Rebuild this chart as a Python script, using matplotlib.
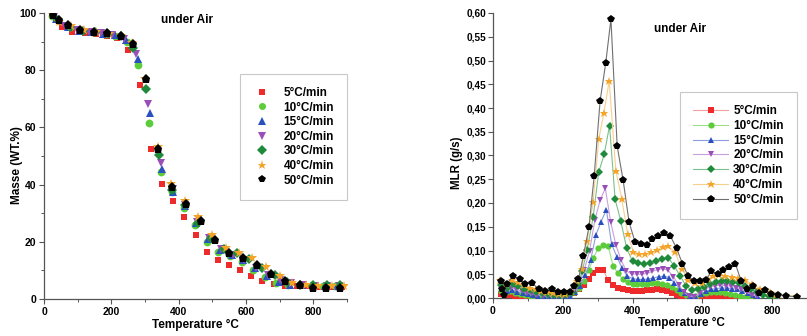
import matplotlib
matplotlib.use("Agg")
import matplotlib.pyplot as plt
from matplotlib.ticker import MultipleLocator, FuncFormatter

plt.rcParams['font.family'] = ['Liberation Sans', 'DejaVu Sans']
plt.rcParams['font.weight'] = 'bold'

labels = ["5°C/min", "10°C/min", "15°C/min", "20°C/min", "30°C/min", "40°C/min", "50°C/min"]
colors = ["#ee2a2a", "#5ccc3a", "#2a50c0", "#9a4fb8", "#1e8a3a", "#f5a42a", "#000000"]
line_colors = ["#f4a0a0", "#9ee08a", "#8c9ee0", "#c9a0dc", "#7cc08e", "#f8cf8f", "#707070"]
markers = ["s", "o", "^", "v", "D", "*", "p"]

# ---------------- TGA (left) ----------------
tga_T_5 = [30, 52, 84, 121, 155, 188, 218, 250, 285, 317, 350, 383, 417, 450, 483, 516, 550, 582, 615, 649, 682, 716, 750, 785, 820, 855, 885]
tga_m_5 = [98.8, 95.1, 93.5, 93.1, 92.6, 92.1, 91.3, 87.2, 74.9, 52.3, 40.3, 34.4, 28.6, 22.3, 16.4, 13.5, 11.9, 10.1, 8.0, 6.2, 5.2, 4.7, 4.5, 4.4, 4.3, 4.3, 4.3]
tga_T_10 = [25, 42, 76, 110, 144, 178, 212, 246, 280, 313, 347, 381, 416, 449, 483, 518, 552, 588, 622, 656, 690, 725, 760, 795, 830, 865]
tga_m_10 = [99.0, 97.5, 95.0, 94.0, 93.3, 92.8, 92.0, 90.0, 81.7, 61.5, 44.4, 37.5, 31.8, 25.8, 20.0, 16.5, 15.0, 12.8, 10.2, 7.8, 5.6, 4.9, 4.8, 4.8, 4.7, 4.7]
tga_T_15 = [35, 70, 105, 140, 175, 210, 245, 278, 314, 350, 383, 418, 452, 488, 522, 558, 592, 627, 662, 697, 732, 767, 800, 835, 870]
tga_m_15 = [97.8, 95.0, 93.8, 93.3, 92.8, 92.2, 90.5, 83.9, 65.0, 45.5, 37.5, 32.5, 26.5, 21.0, 17.0, 15.3, 13.5, 10.8, 8.0, 6.0, 5.0, 5.0, 4.8, 4.7, 4.7]
tga_T_20 = [30, 63, 98, 133, 168, 203, 238, 273, 309, 348, 383, 418, 455, 490, 525, 560, 595, 630, 665, 700, 735, 770, 805, 840, 875]
tga_m_20 = [98.5, 95.6, 94.0, 93.4, 92.9, 92.3, 91.0, 85.7, 68.1, 47.6, 38.5, 33.0, 27.0, 21.5, 17.5, 15.5, 13.5, 11.0, 8.5, 6.5, 5.5, 5.0, 4.6, 4.5, 4.5]
tga_T_30 = [42, 78, 115, 152, 190, 228, 265, 302, 341, 380, 420, 458, 496, 535, 572, 610, 648, 685, 722, 760, 800, 840, 878]
tga_m_30 = [97.5, 95.0, 93.8, 93.3, 92.8, 91.8, 87.7, 73.3, 50.4, 38.0, 32.8, 26.5, 21.5, 17.5, 16.0, 14.0, 11.0, 8.5, 5.8, 5.0, 5.0, 4.8, 4.8]
tga_T_40 = [25, 45, 80, 118, 155, 192, 228, 262, 300, 338, 378, 420, 458, 500, 540, 578, 618, 660, 700, 738, 778, 815, 855, 890]
tga_m_40 = [99.5, 97.0, 95.3, 94.2, 93.5, 92.8, 92.0, 89.5, 77.0, 53.0, 40.2, 34.3, 28.6, 22.3, 17.8, 16.2, 14.5, 11.3, 8.0, 5.5, 4.8, 4.5, 4.4, 4.4]
tga_T_50 = [27, 44, 71, 108, 149, 188, 228, 263, 302, 340, 381, 422, 465, 508, 550, 591, 633, 675, 716, 759, 799, 839, 880]
tga_m_50 = [99.4, 97.7, 95.7, 94.2, 93.4, 92.9, 92.0, 89.2, 77.0, 52.4, 39.0, 33.3, 27.2, 20.7, 16.1, 14.3, 12.0, 8.9, 6.2, 4.8, 3.8, 3.7, 3.7]

tga_T = [tga_T_5, tga_T_10, tga_T_15, tga_T_20, tga_T_30, tga_T_40, tga_T_50]
tga_m = [tga_m_5, tga_m_10, tga_m_15, tga_m_20, tga_m_30, tga_m_40, tga_m_50]

# ---------------- MLR (right) ----------------
mlr_T_5 = [22, 36, 50, 64, 78, 92, 106, 120, 134, 148, 162, 176, 190, 204, 218, 232, 246, 260, 274, 288, 302, 316, 330, 344, 358, 372, 386, 400, 414, 428, 442, 456, 470, 484, 498, 512, 526, 540, 554, 568, 582, 596, 610, 624, 638, 652, 666, 680, 694, 708, 722, 736]
mlr_v_5 = [0.008, 0.006, 0.007, 0.005, 0.004, 0.003, 0.002, 0.002, 0.001, 0.001, 0.001, 0.001, 0.001, 0.002, 0.005, 0.010, 0.018, 0.027, 0.040, 0.053, 0.059, 0.059, 0.038, 0.027, 0.021, 0.018, 0.016, 0.015, 0.015, 0.015, 0.016, 0.017, 0.018, 0.016, 0.014, 0.011, 0.007, 0.004, 0.002, 0.001, 0.002, 0.004, 0.005, 0.005, 0.005, 0.004, 0.003, 0.002, 0.001, 0.001, 0.001, 0.000]
mlr_T_10 = [22, 36, 50, 64, 78, 92, 106, 120, 134, 148, 162, 176, 190, 204, 218, 232, 246, 260, 274, 288, 302, 316, 330, 344, 358, 372, 386, 400, 414, 428, 442, 456, 470, 484, 498, 512, 526, 540, 554, 568, 582, 596, 610, 624, 638, 652, 666, 680, 694, 708, 722, 736]
mlr_v_10 = [0.015, 0.012, 0.014, 0.011, 0.009, 0.007, 0.005, 0.004, 0.003, 0.002, 0.002, 0.002, 0.002, 0.003, 0.006, 0.013, 0.022, 0.036, 0.058, 0.085, 0.105, 0.112, 0.110, 0.068, 0.052, 0.040, 0.033, 0.030, 0.029, 0.029, 0.030, 0.031, 0.031, 0.030, 0.027, 0.023, 0.017, 0.011, 0.007, 0.004, 0.005, 0.008, 0.011, 0.012, 0.012, 0.012, 0.011, 0.009, 0.007, 0.005, 0.003, 0.002]
mlr_T_15 = [25, 40, 55, 70, 85, 100, 115, 130, 145, 160, 175, 190, 205, 220, 235, 250, 265, 280, 295, 310, 325, 340, 355, 370, 385, 400, 415, 430, 445, 460, 475, 490, 505, 520, 535, 550, 565, 580, 595, 610, 625, 640, 655, 670, 685, 700, 715, 730, 745, 760]
mlr_v_15 = [0.018, 0.014, 0.017, 0.013, 0.011, 0.009, 0.007, 0.005, 0.004, 0.003, 0.003, 0.003, 0.003, 0.005, 0.012, 0.025, 0.048, 0.080, 0.133, 0.161, 0.186, 0.113, 0.087, 0.063, 0.046, 0.041, 0.039, 0.039, 0.040, 0.042, 0.045, 0.046, 0.043, 0.032, 0.020, 0.010, 0.005, 0.004, 0.008, 0.014, 0.018, 0.020, 0.021, 0.021, 0.020, 0.018, 0.014, 0.010, 0.006, 0.003]
mlr_T_20 = [22, 37, 52, 67, 82, 97, 112, 127, 142, 157, 172, 187, 202, 217, 232, 247, 262, 277, 292, 307, 322, 337, 352, 367, 382, 397, 412, 427, 442, 457, 472, 487, 502, 517, 532, 547, 562, 577, 592, 607, 622, 637, 652, 667, 682, 697, 712, 727, 742, 757]
mlr_v_20 = [0.022, 0.017, 0.022, 0.018, 0.014, 0.011, 0.009, 0.007, 0.005, 0.004, 0.004, 0.004, 0.004, 0.007, 0.015, 0.032, 0.060, 0.100, 0.164, 0.206, 0.231, 0.161, 0.112, 0.080, 0.057, 0.051, 0.050, 0.050, 0.052, 0.056, 0.060, 0.062, 0.058, 0.045, 0.028, 0.012, 0.004, 0.003, 0.010, 0.018, 0.023, 0.026, 0.027, 0.026, 0.025, 0.022, 0.018, 0.012, 0.007, 0.004]
mlr_T_30 = [22, 39, 56, 73, 90, 107, 124, 141, 158, 175, 192, 209, 226, 243, 256, 270, 287, 303, 319, 334, 350, 366, 383, 400, 417, 434, 451, 468, 485, 502, 519, 536, 553, 570, 587, 604, 621, 638, 655, 672, 689, 706, 723, 740, 757, 774, 791, 808]
mlr_v_30 = [0.028, 0.022, 0.030, 0.026, 0.020, 0.016, 0.013, 0.010, 0.008, 0.007, 0.006, 0.006, 0.010, 0.030, 0.057, 0.102, 0.170, 0.265, 0.303, 0.363, 0.208, 0.163, 0.105, 0.077, 0.073, 0.072, 0.074, 0.078, 0.082, 0.085, 0.068, 0.047, 0.026, 0.016, 0.018, 0.024, 0.030, 0.033, 0.035, 0.035, 0.034, 0.031, 0.025, 0.018, 0.012, 0.007, 0.004, 0.002]
mlr_T_40 = [20, 37, 54, 71, 88, 105, 122, 139, 156, 173, 190, 207, 224, 241, 254, 270, 287, 303, 318, 333, 352, 369, 386, 402, 419, 435, 452, 469, 486, 502, 521, 541, 560, 579, 598, 615, 632, 649, 666, 684, 703, 722, 741, 765, 794, 812, 840, 870]
mlr_v_40 = [0.038, 0.030, 0.038, 0.033, 0.027, 0.022, 0.018, 0.015, 0.012, 0.010, 0.009, 0.009, 0.014, 0.035, 0.062, 0.121, 0.203, 0.334, 0.390, 0.457, 0.268, 0.209, 0.135, 0.097, 0.093, 0.093, 0.096, 0.101, 0.108, 0.109, 0.097, 0.062, 0.038, 0.031, 0.032, 0.040, 0.046, 0.048, 0.047, 0.044, 0.042, 0.038, 0.030, 0.020, 0.013, 0.007, 0.005, 0.004]
mlr_T_50 = [22, 27, 32, 40, 57, 76, 93, 112, 131, 150, 168, 185, 203, 220, 232, 245, 259, 275, 290, 307, 323, 338, 356, 373, 390, 407, 424, 440, 457, 473, 490, 508, 526, 543, 559, 576, 593, 610, 626, 644, 660, 677, 695, 712, 728, 745, 763, 780, 797, 816, 840, 870]
mlr_v_50 = [0.035, 0.020, 0.006, 0.030, 0.046, 0.040, 0.030, 0.032, 0.018, 0.014, 0.018, 0.013, 0.012, 0.013, 0.025, 0.039, 0.089, 0.149, 0.257, 0.415, 0.494, 0.587, 0.319, 0.248, 0.160, 0.118, 0.114, 0.112, 0.124, 0.130, 0.137, 0.131, 0.105, 0.072, 0.047, 0.035, 0.035, 0.038, 0.056, 0.051, 0.059, 0.066, 0.071, 0.035, 0.019, 0.025, 0.011, 0.016, 0.009, 0.006, 0.004, 0.003]

mlr_T = [mlr_T_5, mlr_T_10, mlr_T_15, mlr_T_20, mlr_T_30, mlr_T_40, mlr_T_50]
mlr_v = [mlr_v_5, mlr_v_10, mlr_v_15, mlr_v_20, mlr_v_30, mlr_v_40, mlr_v_50]

W, H = 807, 336
fig = plt.figure(figsize=(W / 100, H / 100), dpi=100)

ax1 = fig.add_axes([44 / W, (H - 299) / H, 303 / W, 286 / H])
ax2 = fig.add_axes([493 / W, (H - 298) / H, 314 / W, 285 / H])

msize = [5.0, 5.6, 5.8, 5.8, 5.2, 7.5, 6.8]
for i in range(7):
    ax1.plot(tga_T[i], tga_m[i], linestyle='none', marker=markers[i], color=colors[i],
             markersize=msize[i], markeredgewidth=0, label=labels[i], zorder=3 + i)

msize2 = [4.0, 4.5, 5.0, 5.0, 4.5, 6.3, 5.7]
for i in range(7):
    ax2.plot(mlr_T[i], mlr_v[i], linestyle='-', linewidth=0.8, color=line_colors[i],
             marker=markers[i], markerfacecolor=colors[i], markeredgecolor=colors[i],
             markersize=msize2[i], markeredgewidth=0, label=labels[i], zorder=3 + i)

for ax in (ax1, ax2):
    for s in ('top', 'right'):
        ax.spines[s].set_visible(False)
    for s in ('left', 'bottom'):
        ax.spines[s].set_color('#555555')
        ax.spines[s].set_linewidth(0.9)
    ax.tick_params(which='major', direction='out', length=3.5, width=0.8, color='#555555',
                   labelsize=7.5, pad=2)
    ax.tick_params(which='minor', direction='out', length=2, width=0.7, color='#555555')
    ax.set_xlim(0, 900)
    ax.xaxis.set_major_locator(MultipleLocator(200))
    ax.xaxis.set_minor_locator(MultipleLocator(100))

ax1.set_ylim(0, 100)
ax1.yaxis.set_major_locator(MultipleLocator(20))
ax1.yaxis.set_minor_locator(MultipleLocator(10))
ax1.set_xticks([0, 200, 400, 600, 800])

ax2.set_ylim(0, 0.6)
ax2.yaxis.set_major_locator(MultipleLocator(0.05))
ax2.yaxis.set_major_formatter(FuncFormatter(lambda v, p: f"{v:.2f}".replace('.', ',')))
ax2.set_xticks([0, 200, 400, 600, 800])
ax2.tick_params(axis='y', labelsize=7.2, pad=1.5)

fig.text(17 / W, 1 - 165 / H, "Masse (WT.%)", rotation=90, ha='center', va='center',
         fontsize=8.5, fontweight='bold')
fig.text(195 / W, 1 - 325 / H, "Temperature °C", ha='center', va='center',
         fontsize=8.5, fontweight='bold')
fig.text(457 / W, 1 - 163 / H, "MLR (g/s)", rotation=90, ha='center', va='center',
         fontsize=8.3, fontweight='bold')
fig.text(681 / W, 1 - 323 / H, "Temperature °C", ha='center', va='center',
         fontsize=8.5, fontweight='bold')
fig.text(187 / W, 1 - 20 / H, "under Air", ha='center', va='center',
         fontsize=8.5, fontweight='bold')
fig.text(680 / W, 1 - 29 / H, "under Air", ha='center', va='center',
         fontsize=8.5, fontweight='bold')

leg1 = ax1.legend(loc='upper left', bbox_to_anchor=(240 / W, 1 - 74 / H), bbox_transform=fig.transFigure,
                  frameon=True, fancybox=False, edgecolor='#c8c8c8', framealpha=1,
                  prop={'size': 8.5, 'weight': 'bold'}, borderpad=1.1, handlelength=1.6,
                  handletextpad=1.0, labelspacing=0.22, borderaxespad=0, markerscale=0.9)
leg1.get_frame().set_linewidth(0.8)
leg2 = ax2.legend(loc='upper left', bbox_to_anchor=(680 / W, 1 - 92 / H), bbox_transform=fig.transFigure,
                  frameon=True, fancybox=False, edgecolor='#c8c8c8', framealpha=1,
                  prop={'size': 8.5, 'weight': 'bold'}, borderpad=1.1, handlelength=3.0,
                  handletextpad=0.4, labelspacing=0.24, borderaxespad=0)
leg2.get_frame().set_linewidth(0.8)

fig.savefig("out.png", dpi=100)
